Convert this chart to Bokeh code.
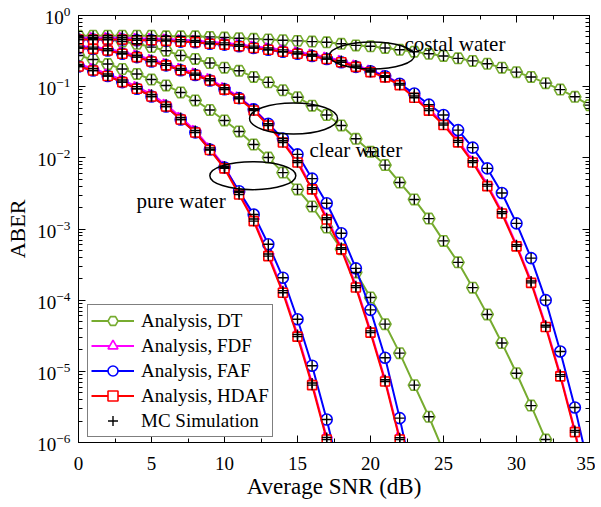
import numpy as np
from bokeh.plotting import figure
from bokeh.models import (Range1d, LinearAxis, LogAxis, SingleIntervalTicker, FixedTicker,
                          Legend, LegendItem, Label)
from bokeh.embed import file_html
from bokeh.resources import INLINE

# ---------------- data ----------------
snr = list(range(0, 36))

# pure water
dt_pure = [0.274, 0.241, 0.208, 0.177, 0.151, 0.126, 0.104, 0.083, 0.064, 0.047, 0.0335, 0.0235,
           0.0154, 0.0101, 0.0062, 0.0036, 0.00207, 0.00105, 0.00052, 0.000245, 0.000109,
           4.6e-5, 1.8e-5, 6.4e-6, 2.3e-6, 7.5e-7]
fdf_pure = [0.205, 0.181, 0.151, 0.124, 0.100, 0.078, 0.0564, 0.037, 0.0243, 0.0138, 0.0076,
            0.00327, 0.00138, 0.000445, 0.000136, 3.3e-5, 6.85e-6, 1.18e-6, 1.7e-7]
faf_pure = [0.192, 0.169, 0.141, 0.116, 0.0934, 0.0728, 0.0527, 0.0346, 0.0228, 0.0131, 0.0073,
            0.0034, 0.0016, 0.00061, 0.000207, 5.4e-5, 1.2e-5, 2.1e-6, 3e-7]
hdaf_pure = [0.192, 0.169, 0.141, 0.116, 0.0934, 0.0728, 0.0527, 0.0346, 0.0227, 0.0129, 0.0071,
             0.00306, 0.00129, 0.000416, 0.000127, 3.07e-5, 6.4e-6, 1.1e-6, 1.6e-7]

# clear water
dt_clear = [0.50, 0.48, 0.46, 0.43, 0.40, 0.36, 0.32, 0.274, 0.245, 0.215, 0.185, 0.167, 0.137,
            0.115, 0.089, 0.071, 0.054, 0.040, 0.0285, 0.0185, 0.0122, 0.0079, 0.0045, 0.0026,
            0.0014, 0.00068, 0.00034, 0.00015, 6.3e-5, 2.5e-5, 9.4e-6, 3.3e-6, 1.1e-6, 3e-7]
fdf_clear = [0.371, 0.36, 0.341, 0.307, 0.276, 0.24, 0.211, 0.18, 0.155, 0.129, 0.0965, 0.0717,
             0.049, 0.0302, 0.0174, 0.0091, 0.0038, 0.00144, 0.000548, 0.00016, 3.7e-5, 7.6e-6,
             1.17e-6, 1.3e-7]
faf_clear = [0.35, 0.34, 0.322, 0.29, 0.26, 0.226, 0.199, 0.17, 0.146, 0.122, 0.092, 0.069, 0.048,
             0.030, 0.0187, 0.0112, 0.0051, 0.0023, 0.00087, 0.00028, 7.3e-5, 1.55e-5, 2.2e-6,
             2.5e-7]
hdaf_clear = [0.35, 0.34, 0.322, 0.29, 0.26, 0.226, 0.199, 0.17, 0.146, 0.122, 0.091, 0.0676,
              0.0463, 0.0285, 0.0164, 0.0086, 0.0036, 0.00136, 0.000517, 0.000151, 3.5e-5,
              7.2e-6, 1.1e-6, 1.2e-7]

# costal water
dt_costal = [0.52, 0.52, 0.52, 0.52, 0.52, 0.52, 0.51, 0.51, 0.51, 0.50, 0.49, 0.48, 0.47, 0.46,
             0.45, 0.44, 0.43, 0.42, 0.40, 0.38, 0.37, 0.35, 0.33, 0.31, 0.29, 0.27, 0.25, 0.23,
             0.21, 0.185, 0.16, 0.137, 0.112, 0.091, 0.072, 0.055]
fdf_costal = [0.488, 0.488, 0.488, 0.488, 0.477, 0.477, 0.466, 0.456, 0.445, 0.424, 0.413, 0.392,
              0.371, 0.35, 0.329, 0.307, 0.286, 0.26, 0.233, 0.201, 0.17, 0.143, 0.111, 0.074,
              0.0488, 0.0307, 0.0175, 0.0091, 0.00424, 0.00175, 0.0006, 0.000186, 4.45e-5,
              9e-6, 1.48e-6, 1.6e-7]
faf_costal = [0.46, 0.46, 0.46, 0.46, 0.45, 0.45, 0.44, 0.43, 0.42, 0.40, 0.39, 0.37, 0.35, 0.33,
              0.31, 0.29, 0.27, 0.245, 0.22, 0.19, 0.165, 0.14, 0.11, 0.08, 0.056, 0.04, 0.0245,
              0.0139, 0.0071, 0.0032, 0.0012, 0.00039, 0.0001, 1.9e-5, 3.1e-6, 4e-7]
hdaf_costal = [0.46, 0.46, 0.46, 0.46, 0.45, 0.45, 0.44, 0.43, 0.42, 0.40, 0.39, 0.37, 0.35, 0.33,
               0.31, 0.29, 0.27, 0.245, 0.22, 0.19, 0.16, 0.135, 0.105, 0.07, 0.046, 0.029,
               0.0165, 0.0086, 0.0040, 0.00165, 0.00057, 0.000175, 4.2e-5, 8.5e-6, 1.4e-6,
               1.5e-7]

x_ticks = [0, 5, 10, 15, 20, 25, 30, 35]
y_ticks = [1e-6, 1e-5, 1e-4, 1e-3, 1e-2, 1e-1, 1e0]
legend_labels = ["Analysis, DT", "Analysis, FDF", "Analysis, FAF", "Analysis, HDAF",
                 "MC Simulation"]

# ---------------- figure ----------------
FONT = "Liberation Serif"
GREEN, MAGENTA, BLUE, RED = "#77AC30", "#FF00FF", "#0000FF", "#FF0000"

p = figure(frame_width=511, frame_height=427, y_axis_type="log",
           x_range=Range1d(0, 35), y_range=Range1d(1e-6, 1),
           output_backend="svg", toolbar_location=None,
           min_border_left=78, min_border_right=6, min_border_top=15, min_border_bottom=40)
p.xgrid.visible = False
p.ygrid.visible = False
p.outline_line_color = "black"
p.outline_line_width = 1
p.background_fill_color = "white"
p.border_fill_color = "white"

minor_y = [m * 10.0 ** e for e in range(-6, 0) for m in range(2, 10)]
xt = SingleIntervalTicker(interval=5, num_minor_ticks=2)
yt = FixedTicker(ticks=y_ticks, minor_ticks=minor_y)


def style_axis(ax, show_labels=True):
    ax.major_tick_in = 7
    ax.major_tick_out = 0
    ax.minor_tick_in = 4
    ax.minor_tick_out = 0
    ax.axis_line_color = "black"
    ax.major_tick_line_color = "black"
    ax.minor_tick_line_color = "black"
    ax.major_label_text_font = FONT
    ax.axis_label_text_font = FONT
    ax.axis_label_text_font_style = "normal"
    ax.axis_label_text_color = "black"
    if show_labels:
        ax.major_label_text_color = "black"
        ax.major_label_text_font_size = "19px"
        ax.axis_label_text_font_size = "22px"
    else:
        ax.major_label_text_font_size = "1px"
        ax.major_label_text_alpha = 0
        ax.major_label_standoff = 0


p.xaxis.ticker = xt
p.yaxis.ticker = yt
p.xaxis.axis_label = "Average SNR (dB)"
p.yaxis.axis_label = "ABER"
style_axis(p.xaxis[0])
style_axis(p.yaxis[0])
p.xaxis.axis_label_text_font_size = "23px"
p.xaxis.major_label_standoff = 14
p.yaxis.major_label_standoff = 8
p.xaxis.axis_label_standoff = 1
p.yaxis.axis_label_standoff = 4

top = LinearAxis(ticker=xt)
style_axis(top, False)
p.add_layout(top, "above")
right = LogAxis(ticker=yt)
style_axis(right, False)
p.add_layout(right, "right")

# ---------------- curves ----------------
schemes = [
    ("DT", GREEN, "hex", 12, [dt_pure, dt_clear, dt_costal]),
    ("FDF", MAGENTA, "triangle", 10, [fdf_pure, fdf_clear, fdf_costal]),
    ("FAF", BLUE, "circle", 11, [faf_pure, faf_clear, faf_costal]),
    ("HDAF", RED, "square", 9, [hdaf_pure, hdaf_clear, hdaf_costal]),
]

legend_items = []
for name, col, mk, sz, curves in schemes:
    first = None
    for ys in curves:
        xs = snr[:len(ys)]
        lr = p.line(xs, ys, line_color=col, line_width=2)
        kw = dict(angle=-np.pi / 2) if mk == "triangle" else {}
        sr = p.scatter(xs, ys, marker=mk, size=sz, line_color=col, fill_color="white",
                       line_width=1.6, **kw)
        if first is None:
            first = [lr, sr]
    legend_items.append(first)

mc_first = None
for name, col, mk, sz, curves in schemes:
    for ys in curves:
        xs = snr[:len(ys)]
        r = p.scatter(xs, ys, marker="cross", size=10, line_color="black", line_width=1.4)
        if mc_first is None:
            mc_first = r

# ---------------- annotations ----------------
p.ellipse(x=[20.1, 14.73, 11.94], y=[0.274, 0.0357, 0.00562],
          width=[85, 88, 86], height=[27, 31, 28],
          width_units="screen", height_units="screen",
          fill_alpha=0, line_color="black", line_width=1.5)

for txt, xx, yy in [("costal water", 22.33, 0.392), ("clear water", 15.82, 0.0127),
                    ("pure water", 3.97, 0.00244)]:
    p.add_layout(Label(x=xx, y=yy, text=txt, text_font=FONT, text_font_size="21px",
                       text_color="black", text_baseline="alphabetic", text_align="left"))

items = [LegendItem(label=legend_labels[i], renderers=legend_items[i]) for i in range(4)]
items.append(LegendItem(label=legend_labels[4], renderers=[mc_first]))
legend = Legend(items=items, location=(9, 5), background_fill_color="white",
                background_fill_alpha=1, border_line_color="black", border_line_width=1,
                padding=3, spacing=0, margin=0, glyph_width=43, glyph_height=25,
                label_height=25, label_standoff=7, label_text_font=FONT,
                label_text_font_size="19px", label_text_color="black")
p.add_layout(legend)

open("out.html", "w").write(file_html(p, INLINE))
